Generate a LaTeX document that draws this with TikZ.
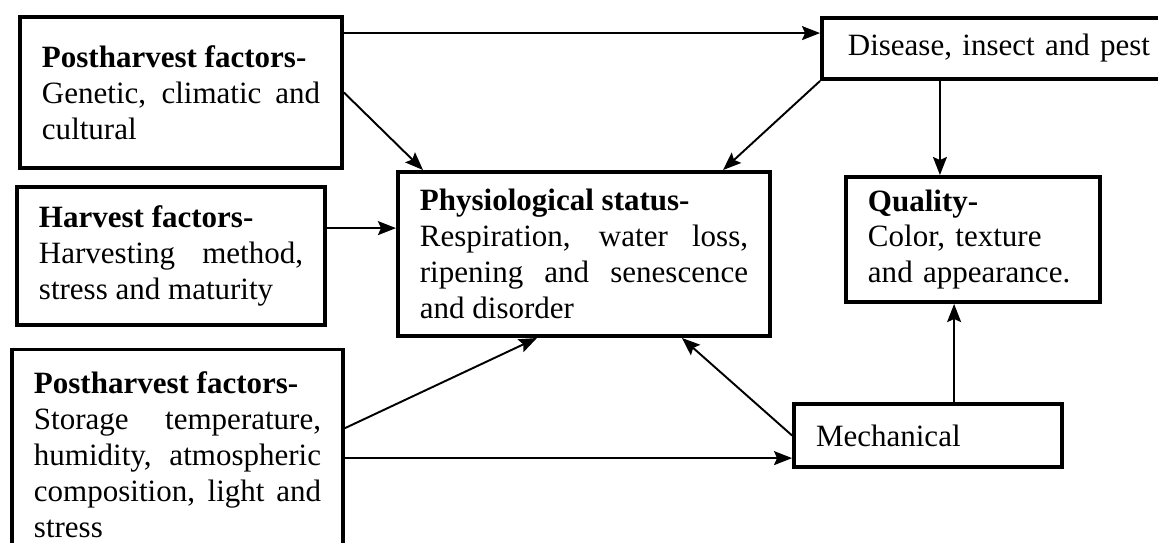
\documentclass[tikz,border=0pt]{standalone}
\usepackage{fontspec}
\setmainfont{Liberation Serif}
\usetikzlibrary{arrows.meta}
\hyphenpenalty=10000
\exhyphenpenalty=10000

\begin{document}
\begin{tikzpicture}[x=0.387pt,y=-0.387pt,
        box/.style={draw, line width=1.5pt, inner xsep=8.5pt, inner ysep=0pt, font=\fontsize{12}{13.9}\selectfont},
        arr/.style={-{Stealth[length=7pt,width=5.4pt,inset=1.2pt]}, line width=0.75pt}]
            \useasboundingbox (0,0) rectangle (1158,542);
            \clip (0,0) rectangle (1158,542);

            \node[box, text width=107.6pt, minimum height=58.4pt, align=justify] (post1) at (181,92.5) {\textbf{Postharvest factors-}\\Genetic, climatic and cultural};
            \node[box, text width=102.2pt, minimum height=53.4pt, align=justify] (harvest) at (171,256) {\textbf{Harvest factors-}\\Harvesting method, stress and maturity};
            \node[box, text width=111.1pt, minimum height=81.7pt, align=justify] (post2) at (177.5,455) {\textbf{Postharvest factors-}\\Storage temperature, humidity, atmospheric composition, light and stress};
            \node[box, text width=127pt, minimum height=63.5pt, align=justify] (physio) at (584,254) {\textbf{Physiological status-}\\Respiration, water loss, ripening and senescence and disorder};
            \node[box, inner xsep=10pt, text width=116.6pt, minimum height=23.6pt, align=left] (disease) at (998.5,48.5) {\mbox{Disease, insect and pest}};
            \node[box, text width=81.3pt, minimum height=48.4pt, align=left] (quality) at (973,239.5) {\textbf{Quality-}\\Color, texture\\and appearance.};
            \node[box, text width=86.7pt, minimum height=24.4pt, align=left] (mech) at (928,435.5) {Mechanical};

            \coordinate (p1) at ([yshift=23pt]post1.east);
            \draw[arr] (p1) -- (p1 -| disease.west);
            \draw[arr] (post1.east) -- ([xshift=-62.3pt]physio.north);
            \draw[arr] (disease.south west) -- ([xshift=53.8pt]physio.north);
            \coordinate (q1) at ([xshift=-12.8pt]quality.north);
            \draw[arr] (q1 |- disease.south) -- (q1);
            \coordinate (h1) at ([yshift=10.8pt]harvest.east);
            \draw[arr] (h1) -- (h1 -| physio.west);
            \draw[arr] ([yshift=10.4pt]post2.east) -- ([xshift=-18.2pt]physio.south);
            \coordinate (p2) at ([yshift=-1.2pt]post2.east);
            \draw[arr] (p2) -- (p2 -| mech.west);
            \draw[arr] (mech.west) -- ([xshift=37.9pt]physio.south);
            \coordinate (m1) at ([xshift=10.1pt]mech.north);
            \draw[arr] (m1) -- (m1 |- quality.south);

        \end{tikzpicture}
\end{document}
